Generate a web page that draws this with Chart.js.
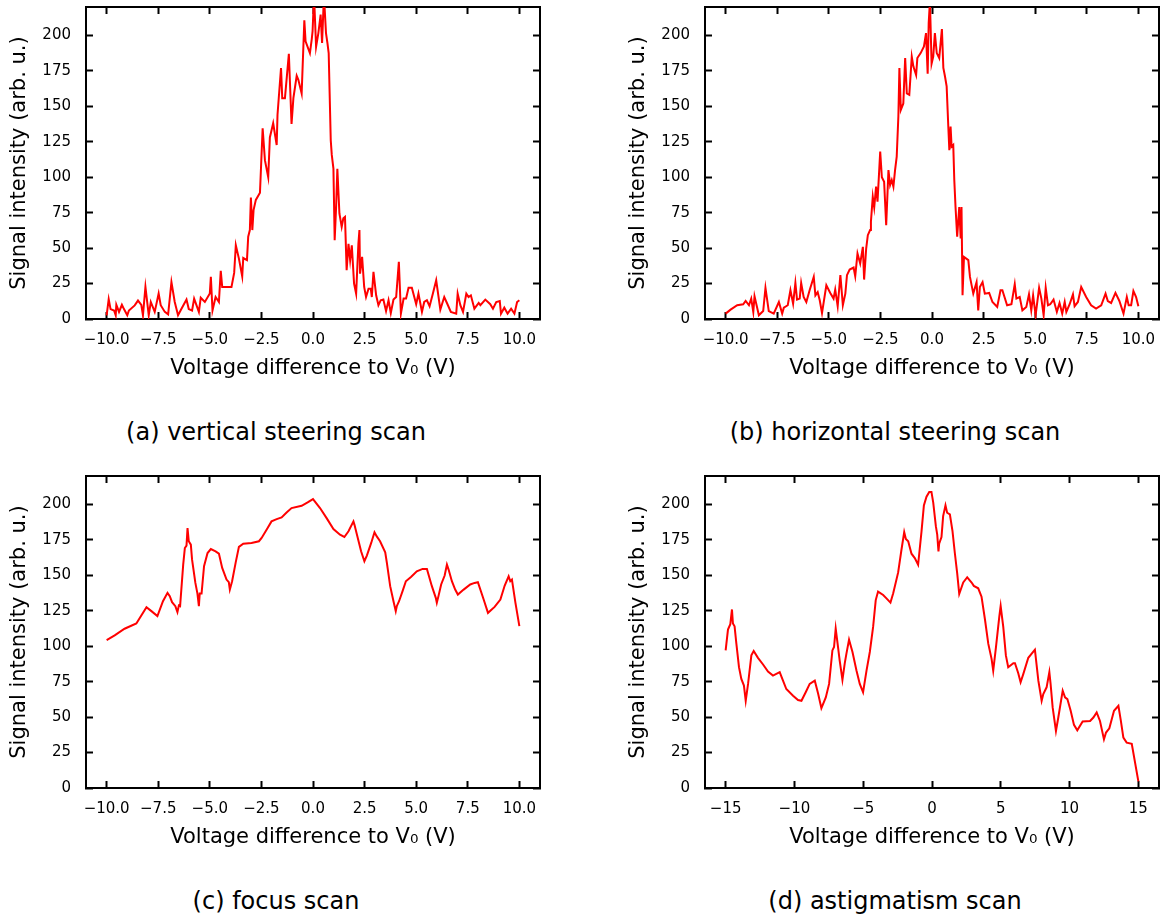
<!DOCTYPE html>
<html>
<head>
<meta charset="utf-8">
<script src="https://cdn.jsdelivr.net/npm/chart.js@4.4.0/dist/chart.umd.min.js"></script>
<style>
  html, body { margin: 0; padding: 0; background: #fff; overflow: hidden; }
  body { width: 1169px; height: 920px; position: relative; font-family: 'DejaVu Sans', sans-serif; }
  canvas { position: absolute; }
  .caption { position: absolute; transform: translateX(-50%); white-space: nowrap;
             font-size: 24px; line-height: 28px; color: #000; }
</style>
</head>
<body>
<canvas id="chartA" width="550" height="400" style="left:0;top:0"></canvas>
<canvas id="chartB" width="550" height="400" style="left:619px;top:0"></canvas>
<canvas id="chartC" width="550" height="400" style="left:0;top:469px"></canvas>
<canvas id="chartD" width="550" height="400" style="left:619px;top:469px"></canvas>
<div class="caption" style="left:276px;top:418px">(a) vertical steering scan</div>
<div class="caption" style="left:895px;top:418px">(b) horizontal steering scan</div>
<div class="caption" style="left:276px;top:887px">(c) focus scan</div>
<div class="caption" style="left:895px;top:887px">(d) astigmatism scan</div>
<script>
// ─── data ──────────────────────────────────────────────────────────
const vertVolts = [-10.0, -9.90, -9.81, -9.64, -9.56, -9.53, -9.40, -9.26, -9.16, -9.00, -8.92, -8.64, -8.48, -8.32, -8.24, -8.12, -7.96, -7.86, -7.67, -7.48,
  -7.38, -7.18, -7.02, -6.86, -6.70, -6.54, -6.38, -6.13, -6.02, -5.86, -5.76, -5.53, -5.44, -5.24, -5.00, -4.95, -4.87, -4.72, -4.56, -4.47,
  -4.40, -3.95, -3.82, -3.74, -3.59, -3.43, -3.38, -3.20, -3.14, -3.06, -3.01, -2.94, -2.88, -2.77, -2.57, -2.44, -2.33, -2.17, -2.09, -1.93,
  -1.76, -1.72, -1.55, -1.49, -1.36, -1.17, -1.04, -0.95, -0.79, -0.71, -0.55, -0.42, -0.36, -0.15, -0.06, -0.02, 0.05, 0.15, 0.26, 0.37,
  0.44, 0.53, 0.63, 0.70, 0.76, 0.86, 0.91, 0.99, 1.05, 1.12, 1.18, 1.28, 1.39, 1.47, 1.55, 1.63, 1.72, 1.80, 1.88, 1.99,
  2.09, 2.20, 2.25, 2.28, 2.38, 2.48, 2.57, 2.69, 2.80, 2.85, 2.93, 3.06, 3.17, 3.28, 3.41, 3.54, 3.66, 3.77, 3.90, 4.03,
  4.16, 4.26, 4.39, 4.51, 4.63, 4.79, 5.00, 5.11, 5.28, 5.39, 5.52, 5.65, 5.81, 5.97, 6.17, 6.36, 6.49, 6.68, 6.94, 7.01,
  7.14, 7.27, 7.43, 7.54, 7.65, 7.82, 8.03, 8.11, 8.35, 8.59, 8.72, 8.88, 9.05, 9.11, 9.27, 9.43, 9.60, 9.76, 9.89, 10.0]
const vertSignal = [2.6, 14, 7, 6, 2.6, 10, 5, 10, 7, 2.6, 6, 9.6, 13, 10, 2.6, 22.6, 2.6, 12, 5, 18,
  9.7, 5, 3.3, 26, 12, 2.6, 7, 13.7, 7, 6, 14.4, 5, 15, 12, 18, 29.7, 6, 15.5, 12, 34,
  22.6, 22.6, 32.5, 52, 42.6, 30, 43, 41.5, 58, 62.7, 85.7, 62.7, 76.8, 84, 89, 134.5, 112, 100, 128, 138,
  122.7, 144, 177, 155.7, 155.7, 187, 137.6, 155.7, 171.5, 168.7, 159, 210.6, 195.8, 187.5, 197.4, 203, 228, 192, 201.6, 214.6,
  194.6, 228, 201.6, 194.6, 187.5, 126, 115.7, 106, 55.6, 79, 106, 74.4, 65, 71, 72, 34.4, 53, 41.5, 52, 25,
  17.9, 53, 62.7, 32, 43.8, 22.6, 15.5, 21.4, 21.4, 15.5, 33.2, 16.7, 9.7, 13.2, 13.7, 5.6, 13.2, 4.2, 13.7, 15.5,
  40.3, 3.8, 14.4, 14.4, 22, 22, 10.4, 17.9, 5, 12, 13.2, 9, 17.9, 27.3, 6.6, 15.5, 11.3, 5, 3.8, 17.9,
  9.7, 5, 17.9, 15.5, 16.7, 7.3, 11.3, 9.7, 13.7, 10.4, 7.3, 12, 12.7, 3.8, 8, 3.8, 7.3, 3.8, 12, 13.2]

const horizVolts = [-10.0, -9.76, -9.44, -9.15, -9.03, -8.87, -8.76, -8.66, -8.60, -8.50, -8.39, -8.18, -8.07, -7.91, -7.67, -7.42, -7.26, -7.18, -6.99, -6.86,
  -6.73, -6.62, -6.54, -6.41, -6.34, -6.22, -6.09, -5.93, -5.73, -5.65, -5.54, -5.44, -5.33, -5.12, -4.93, -4.77, -4.69, -4.57, -4.44, -4.32,
  -4.20, -4.12, -3.99, -3.80, -3.72, -3.61, -3.48, -3.35, -3.29, -3.19, -3.11, -3.00, -2.96, -2.87, -2.80, -2.71, -2.64, -2.51, -2.43, -2.32,
  -2.22, -2.11, -2.03, -1.95, -1.87, -1.79, -1.71, -1.63, -1.58, -1.51, -1.39, -1.30, -1.22, -1.10, -0.98, -0.90, -0.77, -0.71, -0.55, -0.39,
  -0.29, -0.21, -0.16, -0.10, -0.02, 0.06, 0.14, 0.23, 0.35, 0.48, 0.55, 0.63, 0.71, 0.79, 0.84, 0.90, 0.95, 1.03, 1.08, 1.14,
  1.22, 1.32, 1.39, 1.43, 1.48, 1.55, 1.76, 1.84, 2.00, 2.16, 2.24, 2.32, 2.45, 2.56, 2.77, 2.93, 3.16, 3.32, 3.41, 3.64,
  3.85, 4.01, 4.09, 4.25, 4.38, 4.57, 4.70, 4.81, 4.90, 5.02, 5.19, 5.30, 5.41, 5.51, 5.62, 5.73, 5.89, 6.05, 6.18, 6.31,
  6.43, 6.51, 6.67, 6.83, 6.91, 7.07, 7.23, 7.47, 7.71, 7.95, 8.20, 8.41, 8.52, 8.68, 8.89, 9.08, 9.28, 9.44, 9.53, 9.65,
  9.76, 9.89, 10.0]
const horizSignal = [3.8, 6.6, 9.7, 10.4, 12.7, 9.7, 14.4, 5, 16, 9.7, 2.6, 5.6, 22, 5.6, 3.8, 12, 3.8, 8, 9.7, 20.3,
  10.8, 25.4, 13.7, 14.4, 25.4, 15.5, 12, 20.3, 29.7, 16.7, 19, 13.2, 4.2, 23.8, 18.4, 14.4, 20.7, 9, 30.9, 9.7,
  17.9, 30.9, 34.9, 36.3, 30.2, 46.2, 39.1, 50.9, 27.8, 49.7, 59.1, 62.7, 68.6, 86.2, 78.7, 93.3, 82.7, 118, 99.9, 96.8,
  66.2, 105, 94.5, 98, 93.3, 105, 114.5, 142.8, 177, 147.5, 152, 184, 159, 158, 185, 178, 172, 184, 187.5, 192.2,
  201.6, 173, 208.7, 224, 180, 185, 201.6, 187.5, 184, 204.5, 177, 171, 164, 135.7, 119, 135.7, 121.5, 122.7, 98, 79,
  58, 79, 56.8, 79, 16.7, 43.8, 41.5, 29.7, 17.9, 26, 6.1, 22.6, 26, 17.9, 18.4, 12, 8.5, 20.3, 20.3, 9.7,
  10.4, 24.5, 14.4, 15.5, 6.1, 8.5, 17.4, 6.1, 16.7, 2.6, 22, 14.4, 2.6, 22, 9.7, 10.4, 13.7, 5, 11.3, 3.8,
  12, 5, 10.4, 17.4, 9, 12, 22.6, 15.5, 9.7, 7.3, 9.7, 17.9, 12.7, 11.3, 18.4, 12.7, 3.8, 15.5, 9.7, 9.7,
  19.8, 15.5, 9]

const focusVolts = [-10.0, -9.61, -9.13, -8.56, -8.07, -7.83, -7.54, -7.27, -7.05, -6.94, -6.83, -6.67, -6.57, -6.50, -6.44, -6.29, -6.21, -6.13, -6.08, -6.02,
  -5.92, -5.86, -5.70, -5.60, -5.53, -5.49, -5.40, -5.28, -5.11, -4.95, -4.72, -4.56, -4.40, -4.19, -4.08, -4.03, -3.92, -3.75, -3.59, -3.38,
  -2.98, -2.62, -2.49, -2.25, -2.01, -1.76, -1.52, -1.28, -1.04, -0.55, -0.26, 0.0, 0.34, 0.66, 0.99, 1.31, 1.52, 1.72, 1.96, 2.01,
  2.17, 2.33, 2.49, 2.61, 2.82, 2.98, 3.09, 3.25, 3.50, 3.58, 3.74, 3.90, 4.01, 4.06, 4.17, 4.34, 4.50, 4.76, 5.03, 5.31,
  5.52, 5.76, 5.95, 6.00, 6.08, 6.21, 6.38, 6.49, 6.57, 6.73, 6.89, 7.02, 7.30, 7.62, 7.83, 7.99, 8.27, 8.48, 8.80, 9.08,
  9.29, 9.48, 9.56, 9.64, 9.81, 10.0]
const focusSignal = [104.3, 107.6, 112.3, 116, 127.5, 124.7, 121.2, 131.7, 137.6, 135.3, 131, 128.2, 124, 128.7, 128.2, 157.5, 169.2, 170.9, 183.3, 174,
  171.6, 161, 144.6, 137.1, 128.2, 137.1, 137.1, 156.4, 165.7, 168.5, 166.9, 165.3, 155.2, 147, 145.1, 139.9, 145.8, 158.7, 170, 172.3,
  172.8, 174, 176.3, 182.1, 188, 189.6, 190.8, 194.3, 197.4, 199, 201.4, 203.7, 197.4, 190.3, 182.6, 178.6, 177, 181, 188, 185.6,
  176.3, 166.9, 159.9, 163.9, 172.8, 180.3, 177.4, 174, 166.2, 158.7, 142.3, 131.7, 124.7, 128.2, 131.7, 138.8, 145.8, 148.9, 152.8, 154.5,
  154.5, 142.3, 134.1, 130.6, 135.3, 143.5, 149.8, 157.5, 154, 145.8, 139.9, 136.4, 139.9, 143.5, 144.6, 145.1, 132.9, 123.5, 127.7, 132.9,
  142.8, 149.3, 145.8, 147, 130.6, 114.2]

const astigVolts = [-15.0, -14.83, -14.66, -14.54, -14.47, -14.35, -14.22, -14.03, -13.86, -13.67, -13.54, -13.37, -13.13, -12.96, -12.65, -12.28, -11.92, -11.56, -11.07, -10.88,
  -10.59, -10.10, -9.74, -9.49, -9.18, -8.89, -8.52, -8.28, -8.04, -7.72, -7.48, -7.24, -7.12, -7.00, -6.83, -6.71, -6.51, -6.34, -6.22, -6.03,
  -5.78, -5.49, -5.25, -5.01, -4.76, -4.52, -4.28, -4.09, -3.92, -3.55, -3.31, -3.02, -2.82, -2.46, -2.22, -2.02, -1.90, -1.73, -1.49, -1.25,
  -1.01, -0.76, -0.59, -0.40, -0.20, -0.04, 0.09, 0.28, 0.38, 0.47, 0.52, 0.69, 0.81, 0.98, 1.10, 1.30, 1.49, 1.66, 1.83, 1.98,
  2.27, 2.56, 2.88, 3.04, 3.36, 3.60, 3.85, 4.09, 4.33, 4.45, 4.65, 4.89, 4.99, 5.18, 5.37, 5.54, 5.91, 6.03, 6.27, 6.44,
  6.64, 7.00, 7.48, 7.73, 7.97, 8.09, 8.33, 8.53, 8.62, 8.77, 9.01, 9.18, 9.50, 9.67, 9.84, 10.08, 10.32, 10.56, 10.95, 11.49,
  11.73, 11.97, 12.21, 12.50, 12.65, 12.89, 13.23, 13.55, 13.72, 13.91, 14.15, 14.52, 15.0]
const astigSignal = [97, 111.7, 115.5, 125.9, 116, 114, 101.8, 85.2, 76.9, 72.2, 61.5, 73.4, 93.5, 96.6, 91.8, 87.1, 82.1, 79.3, 81.7, 76.9,
  69.8, 65.1, 62, 61.5, 67.5, 73.4, 75.7, 66.7, 56.3, 63.9, 73.4, 97, 99.4, 112.4, 99.4, 89.9, 76.2, 88, 94.7, 104.6,
  95.9, 82.8, 73.4, 67.5, 82.8, 95.9, 113.6, 132.5, 138.5, 136.1, 133.7, 130.7, 137.3, 152, 168, 180.4, 175.6, 174, 165.2, 162.1,
  157.4, 181.1, 199.3, 205.4, 208.8, 208.8, 201.2, 184.6, 178.7, 166.9, 172.3, 177, 191.7, 199.3, 194.1, 192.9, 181.1, 165.7, 151.5, 136.8,
  144.9, 148.6, 144.9, 142.5, 140.8, 134.9, 118.8, 101.8, 91.1, 82.8, 99.4, 120.7, 128.3, 113.6, 93.5, 85.2, 88, 88, 80.9, 74.6,
  80.5, 91.8, 97.5, 75.7, 61.5, 66.3, 71, 81.7, 73.4, 56.8, 40.2, 49.7, 68.6, 63.9, 62.7, 54.4, 44.5, 40.7, 46.9, 47.3,
  49.7, 53.3, 47.3, 34.3, 39.1, 42.1, 54.4, 58, 47.8, 35.5, 32, 31.2, 4.7]

// tick positions and labels
const voltTicks = [-10, -7.5, -5, -2.5, 0, 2.5, 5, 7.5, 10]
const voltTickLabels = ['\u221210.0', '\u22127.5', '\u22125.0', '\u22122.5', '0.0', '2.5', '5.0', '7.5', '10.0']
const astigTicks = [-15, -10, -5, 0, 5, 10, 15]
const astigTickLabels = ['\u221215', '\u221210', '\u22125', '0', '5', '10', '15']
const signalTicks = [0, 25, 50, 75, 100, 125, 150, 175, 200]

const FONT = "'DejaVu Sans', sans-serif"
const X_TITLE = 'Voltage difference to V\u2080 (V)'
const Y_TITLE = 'Signal intensity (arb. u.)'

// ticks point inwards on all four sides, like the matplotlib figure
const inwardGrid = { drawOnChartArea: false, drawTicks: true, tickLength: -7, tickWidth: 2, tickColor: '#000' }
const frame = { display: true, color: '#000', width: 2 }

function fixedTicks(values) {
  return (scale) => { scale.ticks = values.map(v => ({ value: v })) }
}

// pin the axis box size and drop the label overhang padding so every panel gets the same plot area
function fixedSize(dim, px) {
  return (s) => {
    s[dim] = px
    s.paddingTop = s.paddingBottom = s.paddingLeft = s.paddingRight = 0
  }
}

function makePanel(id, xs, ys, range, ticks, labels) {
  const points = xs.map((x, i) => ({ x, y: ys[i] }))
  const common = { type: 'linear', bounds: 'data', grid: inwardGrid, border: frame }

  return new Chart(document.getElementById(id), {
    type: 'line',
    data: {
      datasets: [{
        data: points,
        borderColor: '#ff0000',
        borderWidth: 2,
        pointRadius: 0,
        tension: 0,
        fill: false
      }]
    },
    options: {
      responsive: false,
      animation: false,
      events: [],
      layout: { padding: { left: 0, top: 7, right: 10, bottom: 0 } },
      plugins: { legend: { display: false }, tooltip: { enabled: false } },
      scales: {
        x: {
          ...common, position: 'bottom', min: range[0], max: range[1],
          afterBuildTicks: fixedTicks(ticks),
          afterFit: fixedSize('height', 81),
          ticks: {
            autoSkip: false, maxRotation: 0, minRotation: 0, padding: 19, color: '#000',
            font: { family: FONT, size: 15 },
            callback: (v) => labels[ticks.indexOf(v)]
          },
          title: { display: true, text: X_TITLE, color: '#000', font: { family: FONT, size: 21 }, padding: { top: 0, bottom: 19 } }
        },
        y: {
          ...common, position: 'left', min: 0, max: 220,
          afterBuildTicks: fixedTicks(signalTicks),
          afterFit: fixedSize('width', 86),
          ticks: { padding: 22, color: '#000', font: { family: FONT, size: 15 } },
          title: { display: true, text: Y_TITLE, color: '#000', font: { family: FONT, size: 21 }, padding: { top: 7, bottom: 0 } }
        },
        xTop: {
          ...common, axis: 'x', position: 'top', min: range[0], max: range[1],
          afterBuildTicks: fixedTicks(ticks),
          afterFit: fixedSize('height', 0),
          ticks: { display: false }
        },
        yRight: {
          ...common, axis: 'y', position: 'right', min: 0, max: 220,
          afterBuildTicks: fixedTicks(signalTicks),
          afterFit: fixedSize('width', 0),
          ticks: { display: false }
        }
      }
    }
  })
}

makePanel('chartA', vertVolts, vertSignal, [-11, 11], voltTicks, voltTickLabels)
makePanel('chartB', horizVolts, horizSignal, [-11, 11], voltTicks, voltTickLabels)
makePanel('chartC', focusVolts, focusSignal, [-11, 11], voltTicks, voltTickLabels)
makePanel('chartD', astigVolts, astigSignal, [-16.5, 16.5], astigTicks, astigTickLabels)
</script>
</body>
</html>
